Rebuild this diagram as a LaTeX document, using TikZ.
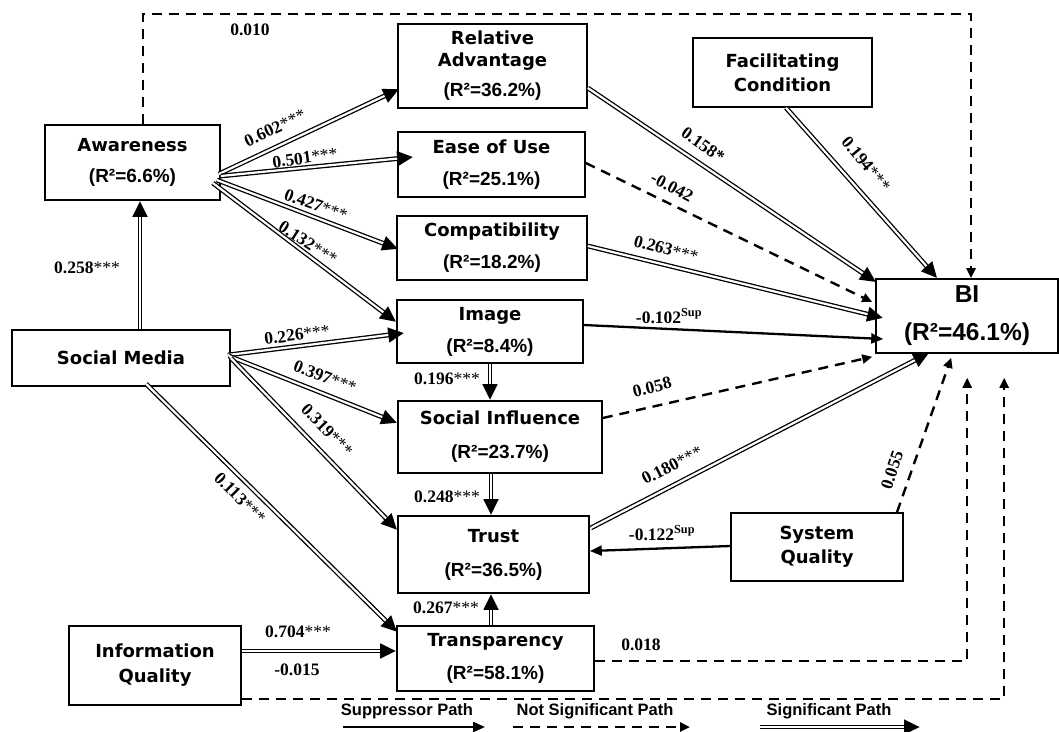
\documentclass[tikz,border=0pt]{standalone}
\usepackage{fontspec}
\setmainfont{Liberation Serif}
\newfontfamily\boxfont{DejaVu Sans}
\newfontfamily\rfont{Liberation Sans}
\newfontfamily\bifont{Liberation Sans}
\usetikzlibrary{arrows.meta,calc,decorations.markings}
\newcommand\rsq[1]{{\rfont\bfseries\fontsize{19}{22}\selectfont (R²=#1\%)}}
\newcommand\sigstars{{\mdseries ***}}
\newcommand\supmark{\textsuperscript{\bfseries Sup}}
\begin{document}
\begin{tikzpicture}[x=1pt,y=-1pt,
  box/.style={draw, line width=1.6pt, inner sep=0pt, align=center,
    font=\boxfont\bfseries\fontsize{18}{22}\selectfont},
  lab/.style={inner sep=0pt, font=\bfseries\fontsize{17.5}{20}\selectfont},
  leg/.style={inner sep=0pt, font=\rfont\bfseries\fontsize{16.5}{18}\selectfont},
  sig/.style={line width=1.3pt, double=white, double distance=2.2pt, shorten >=13pt,
    postaction={decorate, decoration={markings,
      mark=at position 1 with {\arrow{Triangle[length=16pt,width=14pt]}}}}},
  sup/.style={line width=2.3pt, -{Triangle[length=12pt,width=10pt]}},
  ns/.style={line width=2.4pt, dash pattern=on 10pt off 7pt, -{Triangle[length=10pt,width=9pt]}}
]
\useasboundingbox (0,0) rectangle (1059,731);
\fill[white] (0,0) rectangle (1059,731);

% boxes
\node[box, minimum width=175pt, minimum height=75pt] (aw) at (132.5,162.5) {Awareness\\[9pt]\rsq{6.6}};
\node[box, minimum width=189pt, minimum height=84pt] (ra) at (492.5,66) {Relative\\Advantage\\[8pt]\rsq{36.2}};
\node[box, minimum width=179pt, minimum height=69pt] (fc) at (782.5,72.5) {Facilitating\\[2pt]Condition};
\node[box, minimum width=187pt, minimum height=65pt] (eou) at (491.5,164.5) {Ease of Use\\[10pt]\rsq{25.1}};
\node[box, minimum width=190pt, minimum height=64pt] (comp) at (492,248) {Compatibility\\[10pt]\rsq{18.2}};
\node[box, minimum width=182pt, minimum height=74pt, font=\bifont\bfseries\fontsize{24.5}{28}\selectfont] (bi) at (967,316) {BI\\[10pt](R²=46.1\%)};
\node[box, minimum width=186pt, minimum height=63pt] (img) at (490,331.5) {Image\\[10pt]\rsq{8.4}};
\node[box, minimum width=218pt, minimum height=56pt] (sm) at (121,358) {Social Media};
\node[box, minimum width=204pt, minimum height=72pt] (si) at (500,437) {Social Influence\\[12pt]\rsq{23.7}};
\node[box, minimum width=191pt, minimum height=77pt] (trust) at (493.5,554.5) {Trust\\[12pt]\rsq{36.5}};
\node[box, minimum width=172pt, minimum height=68pt] (sq) at (817,547) {System\\[2pt]Quality};
\node[box, minimum width=172pt, minimum height=79pt] (iq) at (155,665.5) {Information\\[3pt]Quality};
\node[box, minimum width=197pt, minimum height=65pt] (tr) at (495.5,658.5) {Transparency\\[11pt]\rsq{58.1}};

% Awareness fan
\draw[sig] ($(aw.east)+(-2,11.5)$) -- ($(ra.west)+(2,23)$);
\draw[sig] ($(aw.east)+(0,13.5)$) -- ($(eou.west)+(16,-7.5)$);
\draw[sig] ($(aw.east)+(-4,17.5)$) -- ($(comp.west)+(2,1)$);
\draw[sig] ($(aw.east)+(-8,20.5)$) -- ($(img.west)+(0,-9.5)$);

% Social Media
\draw[sig] ($(sm.north)+(19,0)$) -- ($(aw.south)+(7.5,0)$);
\draw[sig] ($(sm.east)+(-3,-3)$) -- ($(img.west)+(8,1.5)$);
\draw[sig] ($(sm.east)+(-2,-2)$) -- ($(si.west)+(0,-14)$);
\draw[sig] (sm.east) -- ($(trust.west)+(0,-24.5)$);
\draw[sig] ($(sm.south)+(25,-3)$) -- ($(tr.west)+(1,-26.5)$);

% vertical chain
\draw[sig] (img.south) -- ($(si.north)+(-10,0)$);
\draw[sig] ($(si.south)+(-9,0)$) -- ($(trust.north)+(-2.5,0)$);
\draw[sig] ($(tr.north)+(-4.5,0)$) -- ($(trust.south)+(-2.5,0)$);
\draw[sig] ($(iq.east)+(0,-14.5)$) -- ($(tr.west)+(0,-7.5)$);

% to BI
\draw[sig] ($(ra.east)+(0,22)$) -- ($(bi.north west)+(1,4)$);
\draw[sig] ($(fc.south)+(3.5,0)$) -- ($(bi.north west)+(62,0)$);
\draw[ns] ($(eou.east)+(0,-1.5)$) -- ($(bi.west)+(-3,-14)$);
\draw[sig] ($(comp.east)+(0,-2)$) -- ($(bi.west)+(8,2)$);
\draw[sup] ($(img.east)+(0,-6.5)$) -- ($(bi.west)+(8,23)$);
\draw[ns] ($(si.east)+(0,-19)$) -- ($(bi.south west)+(-3,3)$);
\draw[sig] ($(trust.east)+(1,-26.5)$) -- ($(bi.south west)+(54,-1)$);
\draw[sup] ($(sq.west)+(0,-1)$) -- ($(trust.east)+(0,-3.5)$);
\draw[ns] ($(sq.north)+(80,0)$) -- ($(bi.south west)+(76,4)$);
\draw[ns] ($(tr.east)+(0,2.5)$) -| ($(bi.south west)+(92,24)$);
\draw[ns] ($(iq.east)+(0,33.5)$) -| ($(bi.south west)+(129,24)$);
\coordinate (tc) at (971,14);
\draw[ns] ($(aw.north)+(10.5,0)$) |- (tc) -- ($(bi.north)+(4,0)$);

% labels
\node[lab] (l01) at (250,30) {0.010};
\node[lab, rotate=25] (l02) at (275,128) {0.602\sigstars};
\node[lab, rotate=8] (l03) at (305,158) {0.501\sigstars};
\node[lab, rotate=-20] (l04) at (316,205) {0.427\sigstars};
\node[lab, rotate=-33] (l05) at (308,243) {0.132\sigstars};
\node[lab] (l06) at (87,268) {0.258\sigstars};
\node[lab, rotate=7] (l07) at (297,335) {0.226\sigstars};
\node[lab, rotate=-21] (l08) at (325,377) {0.397\sigstars};
\node[lab, rotate=-46] (l09) at (327,430) {0.319\sigstars};
\node[lab, rotate=-45] (l10) at (240,498) {0.113\sigstars};
\node[lab, rotate=-35] (l11) at (703,145) {0.158*};
\node[lab, rotate=-50] (l12) at (866,164) {0.194\sigstars};
\node[lab, rotate=-28] (l13) at (672,187) {-0.042};
\node[lab, rotate=-15] (l14) at (666,249) {0.263\sigstars};
\node[lab] (l15) at (669,316) {-0.102\supmark};
\node[lab] (l16) at (447,379) {0.196\sigstars};
\node[lab, rotate=14] (l17) at (652,387) {0.058};
\node[lab, rotate=27] (l18) at (672,465) {0.180\sigstars};
\node[lab] (l19) at (447,497) {0.248\sigstars};
\node[lab] (l20) at (662,533) {-0.122\supmark};
\node[lab] (l21) at (446,608) {0.267\sigstars};
\node[lab] (l22) at (298,632) {0.704\sigstars};
\node[lab] (l23) at (297,670) {-0.015};
\node[lab] (l24) at (641,645) {0.018};
\node[lab, rotate=72] (l25) at (892,470) {0.055};

% legend
\node[leg] (g1) at (407,711) {Suppressor Path};
\node[leg] (g2) at (595,711) {Not Significant Path};
\node[leg] (g3) at (829,711) {Significant Path};
\coordinate (g1a) at (343,727); \coordinate (g1b) at (485,727);
\coordinate (g2a) at (513,727); \coordinate (g2b) at (690,727);
\coordinate (g3a) at (760,727); \coordinate (g3b) at (920,727);
\draw[sup] (g1a) -- (g1b);
\draw[ns] (g2a) -- (g2b);
\draw[sig] (g3a) -- (g3b);
\end{tikzpicture}
\end{document}
